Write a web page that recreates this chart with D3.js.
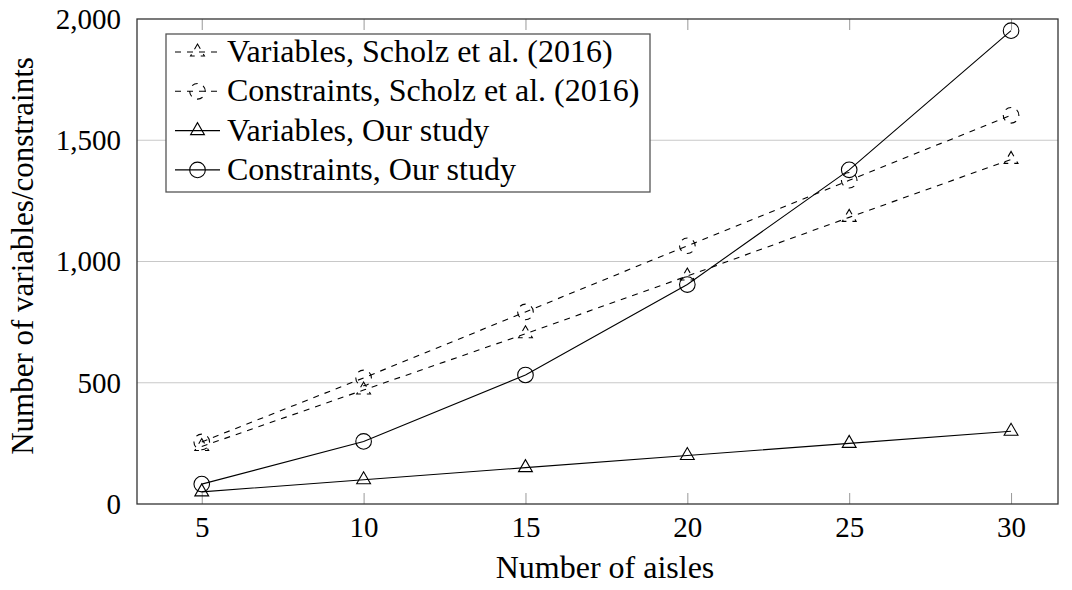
<!DOCTYPE html>
<meta charset="utf-8">
<script src="https://d3js.org/d3.v7.min.js"></script>
<style>
  body { margin: 0; background: #fff; }
  svg text { font-family: 'Liberation Serif', 'DejaVu Serif', serif !important; fill: #000; }
</style>
<div id="chart"></div>
<script>
// data
var aisles = [5, 10, 15, 20, 25, 30];
var scholzVariables = [237, 470, 702, 940, 1182, 1421];
var scholzConstraints = [256, 520, 792, 1065, 1335, 1603];
var ourVariables = [50, 100, 150, 200, 250, 300];
var ourConstraints = [82, 258, 532, 905, 1378, 1952];
var yTicks = [0, 500, 1000, 1500, 2000];
var legendLabels = [
  "Variables, Scholz et al. (2016)",
  "Constraints, Scholz et al. (2016)",
  "Variables, Our study",
  "Constraints, Our study"
];

var W = 1072, H = 590;
var plotL = 137, plotR = 1058, plotT = 19, plotB = 504;

var svg = d3.select("#chart").append("svg")
  .attr("width", W).attr("height", H)
  .style("font-family", "'Liberation Serif', 'DejaVu Serif', serif");

var x = d3.scaleLinear().domain([3, 31.45]).range([plotL, plotR]);
var y = d3.scaleLinear().domain([0, 2000]).range([plotB, plotT]);

// horizontal grid
svg.append("g").selectAll("line")
  .data(yTicks.slice(1, -1))
  .enter().append("line")
    .attr("x1", plotL).attr("x2", plotR)
    .attr("y1", d => y(d)).attr("y2", d => y(d))
    .attr("stroke", "#c8c8c8").attr("stroke-width", 1.2);

// x ticks bottom and top (inside)
var xAxisB = svg.append("g")
  .attr("transform", "translate(0," + plotB + ")")
  .call(d3.axisBottom(x).tickValues(aisles).tickSizeInner(-11).tickSizeOuter(0).tickPadding(12));
xAxisB.attr("font-family", null).attr("font-size", null);
xAxisB.select(".domain").remove();
xAxisB.selectAll("line").attr("stroke", "#999");
xAxisB.selectAll("text").style("font-size", "29px");

var xAxisT = svg.append("g")
  .attr("transform", "translate(0," + plotT + ")")
  .call(d3.axisTop(x).tickValues(aisles).tickSizeInner(-11).tickSizeOuter(0).tickFormat(""));
xAxisT.select(".domain").remove();
xAxisT.selectAll("line").attr("stroke", "#999");

// y tick labels
var yAxis = svg.append("g")
  .attr("transform", "translate(" + plotL + ",0)")
  .call(d3.axisLeft(y).tickValues(yTicks).tickSize(0).tickPadding(16).tickFormat(d3.format(",")));
yAxis.attr("font-family", null).attr("font-size", null);
yAxis.select(".domain").remove();
yAxis.selectAll("text").style("font-size", "29px");

// frame
svg.append("rect")
  .attr("x", plotL).attr("y", plotT)
  .attr("width", plotR - plotL).attr("height", plotB - plotT)
  .attr("fill", "none").attr("stroke", "#333").attr("stroke-width", 1.3);

// markers
function triPath(r) {
  var a = r * Math.sqrt(3) / 2, b = r / 2;
  return "M0," + (-r) + "L" + (-a) + "," + b + "L" + a + "," + b + "Z";
}
function circPath(r) {
  return "M" + r + ",0A" + r + "," + r + " 0 1 0 " + (-r) + ",0A" + r + "," + r + " 0 1 0 " + r + ",0Z";
}

var series = [
  {vals: scholzVariables, dash: "6,6", mark: triPath(8)},
  {vals: scholzConstraints, dash: "6,6", mark: circPath(7.8)},
  {vals: ourVariables, dash: null, mark: triPath(8)},
  {vals: ourConstraints, dash: null, mark: circPath(7.8)}
];

var line = d3.line()
  .x((d, i) => x(aisles[i]))
  .y(d => y(d));

series.forEach(function(s) {
  var g = svg.append("g");
  g.append("path")
    .attr("d", line(s.vals))
    .attr("fill", "none").attr("stroke", "#000").attr("stroke-width", 1.1)
    .attr("stroke-dasharray", s.dash);
  g.selectAll(".m").data(s.vals).enter().append("path")
    .attr("class", "m")
    .attr("d", s.mark)
    .attr("transform", (d, i) => "translate(" + x(aisles[i]) + "," + y(d) + ")")
    .attr("fill", "none").attr("stroke", "#000").attr("stroke-width", 1.1)
    .attr("stroke-dasharray", s.dash);
});

// legend
var lg = svg.append("g");
lg.append("rect")
  .attr("x", 166).attr("y", 34).attr("width", 484).attr("height", 158)
  .attr("fill", "#fff").attr("stroke", "#555").attr("stroke-width", 1.3);
legendLabels.forEach(function(lab, i) {
  var cy = 52 + i * 39.3;
  var s = series[i];
  lg.append("line")
    .attr("x1", 175).attr("x2", 220).attr("y1", cy).attr("y2", cy)
    .attr("stroke", "#000").attr("stroke-width", 1.1)
    .attr("stroke-dasharray", s.dash);
  lg.append("path")
    .attr("d", s.mark)
    .attr("transform", "translate(197.5," + cy + ")")
    .attr("fill", "none").attr("stroke", "#000").attr("stroke-width", 1.1)
    .attr("stroke-dasharray", s.dash);
  lg.append("text")
    .attr("x", 227).attr("y", cy + 10)
    .style("font-size", "32px")
    .text(lab);
});

// axis titles
svg.append("text")
  .attr("x", 605).attr("y", 578)
  .attr("text-anchor", "middle")
  .style("font-size", "32px")
  .text("Number of aisles");

svg.append("text")
  .attr("transform", "translate(33,256) rotate(-90)")
  .attr("text-anchor", "middle")
  .style("font-size", "31px")
  .text("Number of variables/constraints");
</script>
